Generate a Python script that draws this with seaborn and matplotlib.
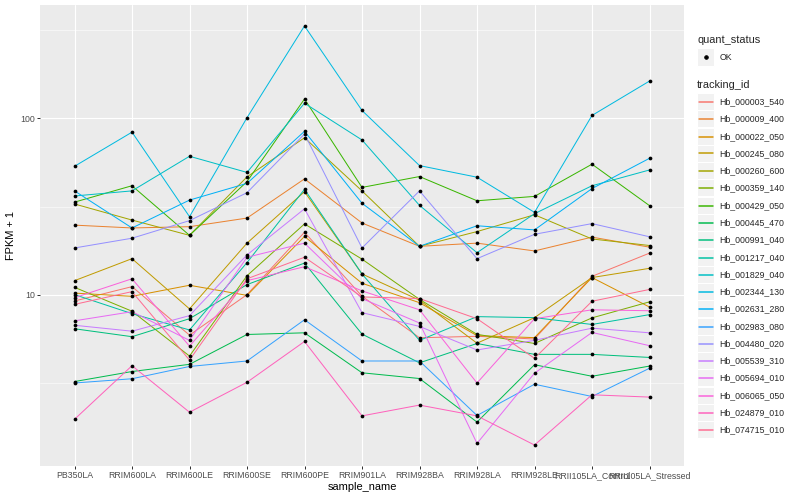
import matplotlib
matplotlib.use("Agg")
import matplotlib.pyplot as plt
import numpy as np
import pandas as pd
import seaborn as sns
from matplotlib.lines import Line2D
from matplotlib.patches import Rectangle
from matplotlib.ticker import FixedLocator, FixedFormatter, NullFormatter

samples = ["PB350LA", "RRIM600LA", "RRIM600LE", "RRIM600SE", "RRIM600PE", "RRIM901LA",
           "RRIM928BA", "RRIM928LA", "RRIM928LE", "RRII105LA_Control", "RRII105LA_Stressed"]

tracking_ids = ["Hb_000003_540", "Hb_000009_400", "Hb_000022_050", "Hb_000245_080",
                "Hb_000260_600", "Hb_000359_140", "Hb_000429_050", "Hb_000445_470",
                "Hb_000991_040", "Hb_001217_040", "Hb_001829_040", "Hb_002344_130",
                "Hb_002631_280", "Hb_002983_080", "Hb_004480_020", "Hb_005539_310",
                "Hb_005694_010", "Hb_006065_050", "Hb_024879_010", "Hb_074715_010"]

# ggplot hue palette, 20 levels
colors = ["#F8766D", "#EA8331", "#D89000", "#C09B00", "#A3A500", "#7CAE00", "#39B600",
          "#00BB4E", "#00BF7D", "#00C1A3", "#00BFC4", "#00BAE0", "#00B0F6", "#35A2FF",
          "#9590FF", "#C77CFF", "#E76BF3", "#FA62DB", "#FF62BC", "#FF6C91"]

# FPKM + 1 per gene, in sample order
hb_000003_540 = [9.2, 11.1, 5.89, 10.0, 22.6, 9.8, 5.69, 5.8, 5.6, 12.7, 17.2]
hb_000009_400 = [24.8, 23.9, 24.3, 27.2, 45.4, 25.5, 18.8, 19.6, 17.7, 21.2, 18.6]
hb_000022_050 = [10.2, 9.78, 11.3, 9.9, 21.4, 11.6, 9.0, 5.85, 5.7, 12.5, 8.5]
hb_000245_080 = [12.0, 16.0, 8.3, 19.6, 38.4, 13.1, 9.3, 5.3, 7.4, 12.5, 14.1]
hb_000260_600 = [32.7, 26.5, 21.7, 46.6, 77.7, 38.8, 18.8, 22.8, 28.4, 20.7, 19.0]
hb_000359_140 = [11.0, 8.05, 4.48, 12.8, 25.2, 15.9, 9.4, 5.95, 5.28, 7.38, 9.1]
hb_000429_050 = [33.5, 41.5, 21.7, 43.8, 129, 40.6, 46.8, 34.1, 36.1, 55.0, 32.0]
hb_000445_470 = [3.21, 3.66, 4.02, 5.94, 6.07, 3.6, 3.34, 1.89, 4.0, 3.44, 3.93]
hb_000991_040 = [6.4, 5.77, 7.3, 11.4, 15.1, 5.97, 4.1, 5.28, 4.58, 4.58, 4.4]
hb_001217_040 = [10.0, 7.8, 6.3, 15.2, 39.6, 13.1, 5.5, 7.5, 7.4, 6.77, 7.7]
hb_001829_040 = [36.3, 38.8, 61.0, 49.4, 122, 75.5, 32.1, 17.3, 28.8, 41.5, 51.0]
hb_002344_130 = [53.5, 83.6, 27.7, 101, 335, 111, 54.0, 46.4, 29.3, 104, 163]
hb_002631_280 = [38.8, 23.9, 34.4, 42.8, 84.5, 33.0, 18.8, 24.6, 23.3, 40.0, 59.4]
hb_002983_080 = [3.15, 3.33, 3.91, 4.2, 7.2, 4.2, 4.2, 2.06, 3.1, 2.64, 3.82]
hb_004480_020 = [18.4, 20.9, 26.3, 37.9, 81.6, 18.4, 38.8, 16.0, 22.0, 25.3, 21.3]
hb_005539_310 = [6.7, 6.2, 7.6, 16.8, 30.7, 7.9, 6.6, 4.85, 5.5, 6.45, 6.07]
hb_005694_010 = [7.1, 8.0, 5.5, 16.3, 19.6, 9.5, 6.9, 1.43, 3.58, 6.1, 5.13]
hb_006065_050 = [9.6, 12.3, 5.1, 12.0, 14.4, 10.5, 8.2, 3.15, 7.3, 8.2, 8.1]
hb_024879_010 = [1.96, 3.95, 2.15, 3.18, 5.42, 2.05, 2.36, 2.05, 1.4, 2.7, 2.62]
hb_074715_010 = [8.8, 10.4, 4.25, 12.3, 16.3, 9.7, 9.5, 7.3, 4.35, 9.17, 10.7]

values = [hb_000003_540, hb_000009_400, hb_000022_050, hb_000245_080, hb_000260_600,
          hb_000359_140, hb_000429_050, hb_000445_470, hb_000991_040, hb_001217_040,
          hb_001829_040, hb_002344_130, hb_002631_280, hb_002983_080, hb_004480_020,
          hb_005539_310, hb_005694_010, hb_006065_050, hb_024879_010, hb_074715_010]

rows = []
for gene, vals in zip(tracking_ids, values):
    for s, v in zip(samples, vals):
        rows.append({"tracking_id": gene, "sample_name": s, "fpkm": v, "quant_status": "OK"})
df = pd.DataFrame(rows)

sns.set_theme(style="darkgrid", rc={"axes.facecolor": "#EBEBEB", "grid.color": "white"})
plt.rcParams["font.family"] = ["Liberation Sans", "DejaVu Sans"]

W, H = 800, 500
fig = plt.figure(figsize=(W / 72, H / 72), dpi=72)
fig.patch.set_facecolor("white")
left, right, top, bottom = 40, 684, 5, 466
ax = fig.add_axes([left / W, 1 - bottom / H, (right - left) / W, (bottom - top) / H])

sns.lineplot(data=df, x="sample_name", y="fpkm", hue="tracking_id", hue_order=tracking_ids,
             palette=colors, estimator=None, errorbar=None, sort=False, linewidth=1.0,
             legend=False, ax=ax)
sns.scatterplot(data=df, x="sample_name", y="fpkm", color="black", s=14, linewidth=0,
                legend=False, ax=ax, zorder=3)

# log10 scale with ggplot-like 5% expansion
ax.set_yscale("log")
lo, hi = np.log10(df["fpkm"].min()), np.log10(df["fpkm"].max())
pad = 0.05 * (hi - lo)
ax.set_ylim(10 ** (lo - pad), 10 ** (hi + pad))
ax.set_xlim(-0.6, len(samples) - 1 + 0.6)

ax.yaxis.set_major_locator(FixedLocator([10, 100]))
ax.yaxis.set_major_formatter(FixedFormatter(["10", "100"]))
ax.yaxis.set_minor_locator(FixedLocator([10 ** 0.5, 10 ** 1.5, 10 ** 2.5]))
ax.yaxis.set_minor_formatter(NullFormatter())
ax.grid(which="major", color="white", linewidth=1.1)
ax.grid(which="minor", color="white", linewidth=0.55)
ax.tick_params(which="minor", length=0)
ax.tick_params(which="major", length=2.75, width=1, color="#333333", labelsize=8.8,
               labelcolor="#4D4D4D", pad=2.2, bottom=True, left=True)
for sp in ax.spines.values():
    sp.set_visible(False)

ax.set_xlabel("sample_name", fontsize=11, color="black", labelpad=2.5)
ax.set_ylabel("FPKM + 1", fontsize=11, color="black", labelpad=4)


# legends drawn by hand, ggplot style (positions in pixels)
def fx(x):
    return x / W


def fy(y):
    return 1 - y / H


key = 17.28
lx, tx = 697, 719.5


def draw_key(yc):
    fig.add_artist(Rectangle((fx(lx), fy(yc + key / 2)), key / W, key / H,
                             transform=fig.transFigure, facecolor="#F2F2F2",
                             edgecolor="white", linewidth=1, zorder=1))


fig.text(fx(lx), fy(40), "quant_status", fontsize=11, ha="left", va="center")
draw_key(57)
fig.add_artist(Line2D([fx(lx + key / 2)], [fy(57)], transform=fig.transFigure,
                      marker="o", color="black", markersize=3.5, linestyle="none", zorder=2))
fig.text(fx(tx), fy(57), "OK", fontsize=8.8, ha="left", va="center")

fig.text(fx(lx), fy(85), "tracking_id", fontsize=11, ha="left", va="center")
for i, (gene, c) in enumerate(zip(tracking_ids, colors)):
    yc = round(101 + i * key) + 0.5
    draw_key(yc)
    fig.add_artist(Line2D([fx(lx + 1.5), fx(lx + key - 1.5)], [fy(yc), fy(yc)],
                          transform=fig.transFigure, color=c, linewidth=1.5, zorder=2))
    fig.text(fx(tx), fy(yc), gene, fontsize=8.8, ha="left", va="center")

fig.savefig("out.png", dpi=72)
